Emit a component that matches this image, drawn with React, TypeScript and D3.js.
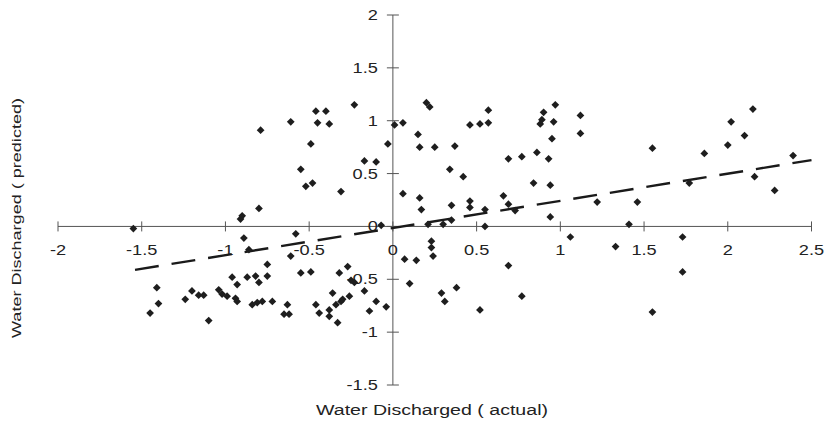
import { useRef, useEffect } from 'react';
import * as d3 from 'd3';

const W = 825;
const H = 424;

// actual vs predicted
const actual = [
  -1.55, -0.91, -0.90, -0.80, -0.79, -0.61, -0.46, -0.40, -0.23, -0.45, -0.38, -0.49, -0.55, -0.52, -0.48, -0.31,
  -0.17, -0.10, -0.03, -0.07, -0.89, -0.58, -0.86, -0.61, -0.75, -0.55, -0.49, -0.27, -0.32, -0.75, -0.87, -0.82,
  -0.80, -0.96, -0.93, -0.25, -0.23, -1.41, -1.20, -1.16, -1.13, -1.24, -1.04, -1.02, -0.99, -0.94, -0.93, -0.84,
  -0.81, -0.78, -0.72, -0.63, -0.65, -0.62, -0.46, -0.44, -0.38, -0.36, -0.34, -0.31, -0.26, -0.17, -0.10, -0.04,
  -0.14, -0.33, -0.38, -1.40, -1.45, -1.10, -0.30,
  0.01, 0.06, 0.20, 0.22, 0.15, 0.16, 0.25, 0.37, 0.46, 0.52, 0.57, 0.57, 0.34, 0.42, 0.06, 0.16, 0.17, 0.35,
  0.46, 0.46, 0.30, 0.35, 0.21, 0.55, 0.66, 0.69, 0.73, 0.69, 0.77, 0.86, 0.93, 0.84, 0.94, 0.94, 0.89, 0.88,
  0.90, 0.97, 0.96, 0.95, 1.12, 1.12, 1.22, 0.55, 1.06, 0.23, 0.23, 0.24, 0.07, 0.14, 0.10, 0.29, 0.31, 0.38,
  0.69, 0.77, 0.52, 1.55, 1.46, 1.41, 1.77, 1.86, 2.00, 2.02, 2.10, 2.15, 2.16, 2.28, 2.39, 1.73, 1.33, 1.73, 1.55,
];
const predicted = [
  -0.02, 0.07, 0.10, 0.17, 0.91, 0.99, 1.09, 1.09, 1.15, 0.98, 0.97, 0.78, 0.54, 0.38, 0.41, 0.33,
  0.62, 0.61, 0.78, 0.01, -0.11, -0.07, -0.22, -0.28, -0.36, -0.44, -0.43, -0.38, -0.44, -0.47, -0.48, -0.47,
  -0.53, -0.48, -0.55, -0.51, -0.53, -0.58, -0.61, -0.65, -0.65, -0.69, -0.60, -0.64, -0.66, -0.68, -0.71, -0.74,
  -0.72, -0.71, -0.71, -0.74, -0.83, -0.83, -0.74, -0.82, -0.79, -0.63, -0.74, -0.71, -0.66, -0.61, -0.71, -0.76,
  -0.80, -0.91, -0.85, -0.73, -0.82, -0.89, -0.69,
  0.96, 0.98, 1.17, 1.13, 0.87, 0.75, 0.75, 0.76, 0.96, 0.97, 0.98, 1.10, 0.54, 0.47, 0.31, 0.27, 0.16, 0.20,
  0.24, 0.18, 0.02, 0.06, 0.02, 0.16, 0.29, 0.21, 0.15, 0.64, 0.66, 0.70, 0.64, 0.41, 0.39, 0.09, 1.01, 0.97,
  1.08, 1.15, 0.99, 0.83, 1.05, 0.88, 0.23, 0.00, -0.10, -0.14, -0.20, -0.28, -0.31, -0.32, -0.54, -0.63, -0.71, -0.58,
  -0.37, -0.66, -0.79, 0.74, 0.23, 0.02, 0.41, 0.69, 0.77, 0.99, 0.86, 1.11, 0.47, 0.34, 0.67, -0.10, -0.19, -0.43, -0.81,
];

// linear trend line (slope / intercept) and its x extent
const trendSlope = 0.257;
const trendIntercept = -0.015;
const trendExtent = [-1.54, 2.5];

const xTicks = [-2, -1.5, -1, -0.5, 0, 0.5, 1, 1.5, 2, 2.5];
const yTicks = [2, 1.5, 1, 0.5, 0, -0.5, -1, -1.5];

const FONT = '"Liberation Sans", Arial, Helvetica, sans-serif';

export default function App() {
  const svgRef = useRef<SVGSVGElement>(null);

  useEffect(() => {
    const svg = d3.select(svgRef.current);
    svg.selectAll('*').remove();

    const x = d3.scaleLinear().domain([-2, 2.5]).range([58, 811.5]);
    const y = d3.scaleLinear().domain([2, -1.5]).range([15, 385]);
    const x0 = x(0);
    const y0 = y(0);

    const axisG = svg.append('g').attr('stroke', '#555').attr('stroke-width', 1);
    // x axis
    axisG.append('line').attr('x1', x(-2)).attr('x2', x(2.5)).attr('y1', y0).attr('y2', y0);
    xTicks.forEach(t => {
      axisG.append('line').attr('x1', x(t)).attr('x2', x(t)).attr('y1', y0 - 5).attr('y2', y0 + 5);
    });
    // y axis
    axisG.append('line').attr('x1', x0).attr('x2', x0).attr('y1', y(2)).attr('y2', y(-1.5));
    yTicks.forEach(t => {
      axisG.append('line').attr('x1', x0 - 6).attr('x2', x0 + 6).attr('y1', y(t)).attr('y2', y(t));
    });

    const fmt = (v: number) => String(v);

    xTicks.forEach(t => {
      const tx = x(t);
      svg.append('text')
        .attr('transform', `translate(${tx},${y0 + 29}) scale(1.3,1)`)
        .attr('text-anchor', 'middle')
        .attr('font-family', FONT).attr('font-size', 14).attr('fill', '#222')
        .text(fmt(t));
    });
    yTicks.forEach(t => {
      svg.append('text')
        .attr('transform', `translate(${x0 - 15},${y(t) + 5}) scale(1.3,1)`)
        .attr('text-anchor', 'end')
        .attr('font-family', FONT).attr('font-size', 14).attr('fill', '#222')
        .text(fmt(t));
    });

    // trend line
    const trendData = trendExtent.map(v => [v, trendSlope * v + trendIntercept] as [number, number]);
    svg.append('path')
      .datum(trendData)
      .attr('fill', 'none')
      .attr('stroke', '#1a1a1a')
      .attr('stroke-width', 2.4)
      .attr('stroke-dasharray', '24,13')
      .attr('d', d3.line<[number, number]>().x(d => x(d[0])).y(d => y(d[1])));

    // diamonds
    const diamond = d3.symbol().type(d3.symbolSquare).size(30);
    svg.append('g').selectAll('path')
      .data(actual.map((a, i) => [a, predicted[i]]))
      .join('path')
      .attr('d', diamond)
      .attr('transform', d => `translate(${x(d[0])},${y(d[1])}) rotate(45)`)
      .attr('fill', '#1e1e1e');

    // axis titles
    svg.append('text')
      .attr('x', 432).attr('y', 415)
      .attr('text-anchor', 'middle')
      .attr('font-family', FONT).attr('font-size', 14).attr('fill', '#222')
      .attr('textLength', 232).attr('lengthAdjust', 'spacingAndGlyphs')
      .text('Water Discharged ( actual)');

    svg.append('text')
      .attr('transform', `translate(21,218) rotate(-90)`)
      .attr('text-anchor', 'middle')
      .attr('font-family', FONT).attr('font-size', 13).attr('fill', '#222')
      .attr('textLength', 240).attr('lengthAdjust', 'spacingAndGlyphs')
      .text('Water Discharged ( predicted)');
  }, []);

  return (
    <svg
      ref={svgRef}
      width={W}
      height={H}
      style={{ position: 'absolute', left: 0, top: 0, background: '#fff' }}
    />
  );
}
